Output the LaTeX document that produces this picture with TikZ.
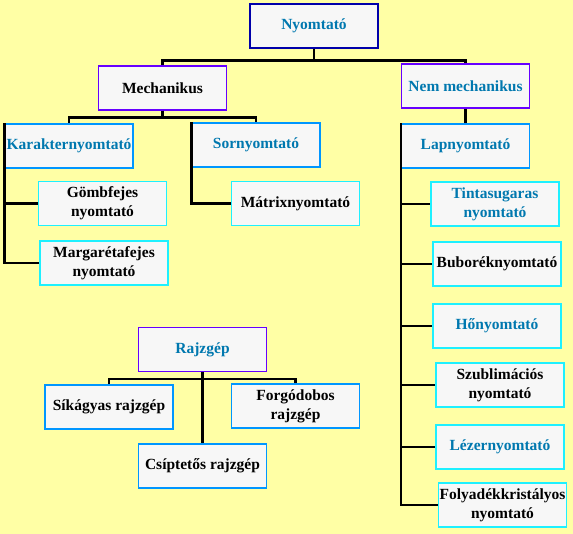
\documentclass[tikz,border=0pt]{standalone}
\usepackage{fontspec}
\setmainfont{Liberation Serif}
\usetikzlibrary{positioning}
\definecolor{bgyellow}{RGB}{255,255,165}
\definecolor{boxgray}{RGB}{247,247,247}
\definecolor{navyline}{RGB}{0,0,170}
\definecolor{violetline}{RGB}{102,0,255}
\definecolor{blueline}{RGB}{0,150,255}
\definecolor{cyanline}{RGB}{30,240,255}
\definecolor{tealtext}{RGB}{0,120,175}

\begin{document}
\begin{tikzpicture}[
    x=1pt, y=-1pt,
    box/.style={draw,fill=boxgray,line width=1.2pt,minimum width=128pt,minimum height=44pt,
        align=center,inner sep=0pt,font=\fontsize{15.5}{19}\selectfont\bfseries},
    rootbox/.style={box,draw=navyline},
    groupbox/.style={box,draw=violetline},
    typebox/.style={box,draw=blueline},
    leafbox/.style={box,draw=cyanline},
    tealtxt/.style={text=tealtext},
    link/.style={draw,line width=2.5pt}
]
\path[fill=bgyellow] (0,0) rectangle (573,534);
\useasboundingbox (0,0) rectangle (573,534);

% nyomtatok
\node[rootbox,tealtxt] (nyomtato) at (314,26) {Nyomtató};
\node[groupbox] (mech) at (162.5,88) {Mechanikus};
\node[groupbox,tealtxt] (nemmech) at (465.5,86) {Nem mechanikus};
\node[typebox,tealtxt] (karakter) at (69,146) {Karakternyomtató};
\node[typebox,tealtxt] (sor) at (256,145) {Sornyomtató};
\node[typebox,tealtxt] (lap) at (465.5,146) {Lapnyomtató};

\node[leafbox] (gomb) at (102.5,203.5) {Gömbfejes\\nyomtató};
\node[leafbox] (margareta) at (104,263) {Margarétafejes\\nyomtató};
\node[leafbox] (matrix) at (295.5,203.5) {Mátrixnyomtató};

\node[leafbox,tealtxt] (tinta) at (495,204) {Tintasugaras\\nyomtató};
\node[leafbox] (bubor) at (497,264) {Buboréknyomtató};
\node[leafbox,tealtxt] (ho) at (497,326) {Hőnyomtató};
\node[leafbox] (szubl) at (500,385) {Szublimációs\\nyomtató};
\node[leafbox,tealtxt] (lezer) at (500,447) {Lézernyomtató};
\node[leafbox] (folyad) at (502.5,505) {Folyadékkristályos\\nyomtató};

% rajzgepek
\node[groupbox,tealtxt] (rajz) at (202.5,349.5) {Rajzgép};
\node[typebox] (sik) at (109,407) {Síkágyas rajzgép};
\node[typebox] (forgo) at (295.5,406) {Forgódobos\\rajzgép};
\node[typebox] (csip) at (202.5,466) {Csíptetős rajzgép};

\draw[link] (nyomtato.south) -- ++(0,12) -| (mech.north);
\draw[link] (nyomtato.south) -- ++(0,12) -| (nemmech.north);
\draw[link] (mech.south) -- ++(0,7) -| (karakter.north);
\draw[link] (mech.south) -- ++(0,7) -| (sor.north);
\draw[link] (nemmech.south) -- (lap.north);

\draw[link] (karakter.north west) |- (gomb.west);
\draw[link] (karakter.north west) |- (margareta.west);
\draw[link] (sor.north west) |- (matrix.west);

\foreach \n in {tinta,bubor,ho,szubl,lezer,folyad}
    \draw[link] (lap.north west) |- (\n.west);

\draw[link] (rajz.south) -- ++(0,7) -| (sik.north);
\draw[link] (rajz.south) -- ++(0,7) -| (forgo.north);
\draw[link] (rajz.south) -- (csip.north);
\end{tikzpicture}
\end{document}
